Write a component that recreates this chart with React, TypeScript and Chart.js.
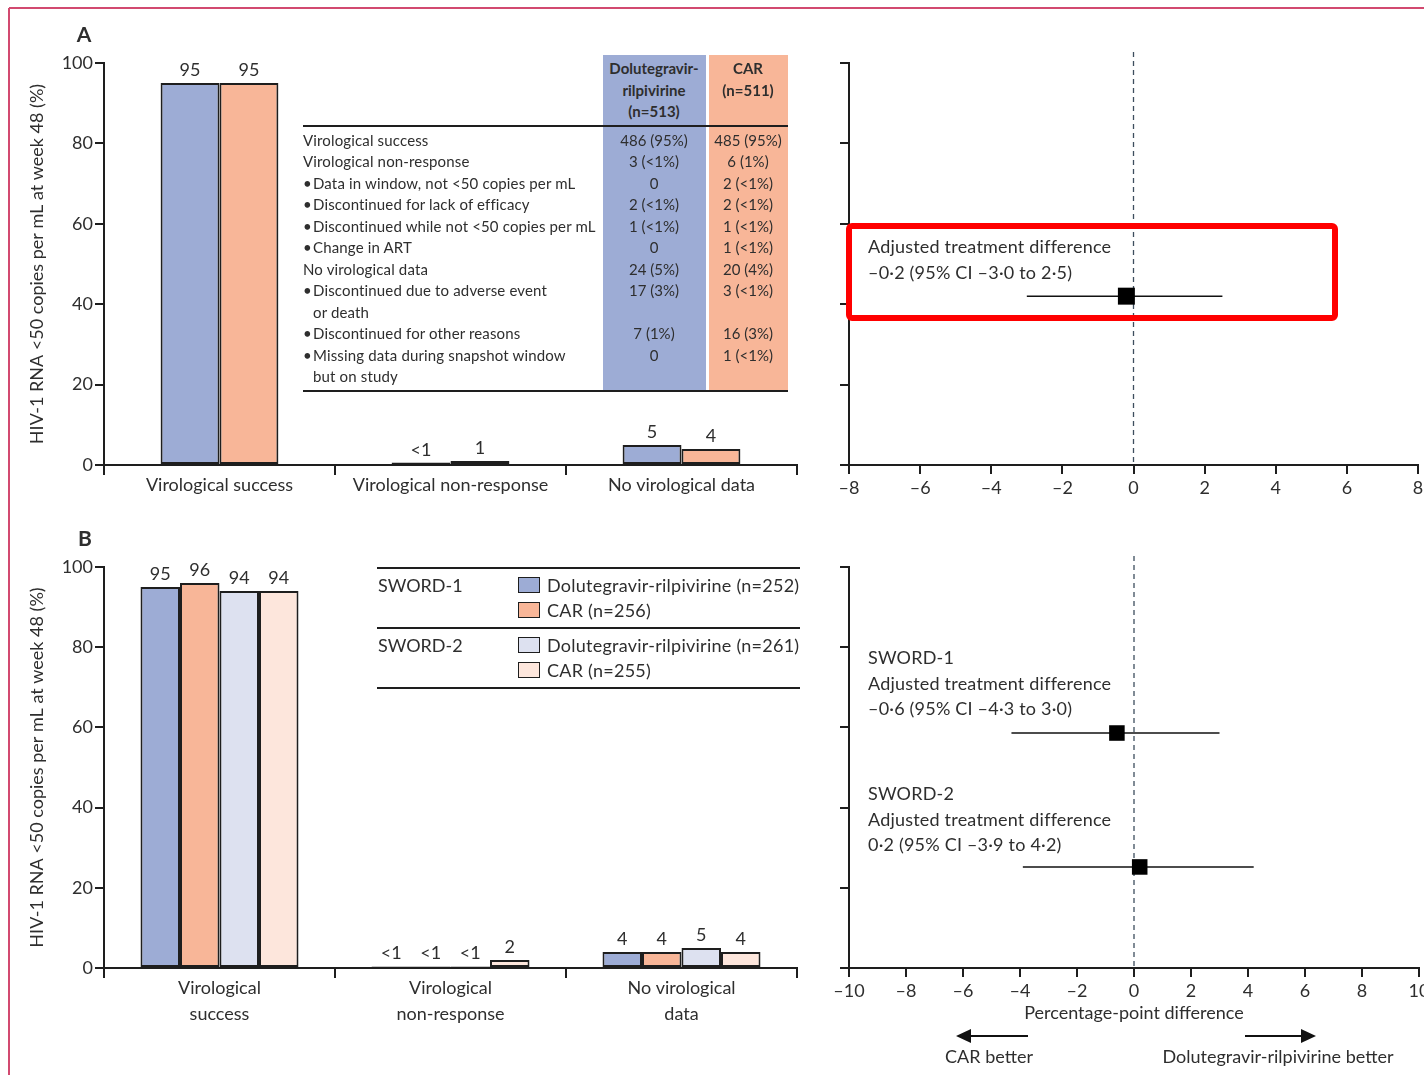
import React, { useEffect, useRef } from 'react';
import { Chart, registerables } from 'chart.js';

Chart.register(...registerables);

const FONT = 'Lato, "Open Sans", "DejaVu Sans", sans-serif';
const TEXT = '#2e2e2e';
const AXIS = '#1e1e1e';

const DR_COLOR = '#9dacd5';
const CAR_COLOR = '#f8b698';
const DR2_COLOR = '#dde1f0';
const CAR2_COLOR = '#fde6dc';

const Y_TITLE = 'HIV-1 RNA <50 copies per mL at week 48 (%)';

// ---------- Panel A: bars ----------
const categoriesA = ['Virological success', 'Virological non-response', 'No virological data'];
const drValuesA = [95, 0.6, 5];
const carValuesA = [95, 1, 4];
const drLabelsA = ['95', '<1', '5'];
const carLabelsA = ['95', '1', '4'];

// ---------- Panel A: table ----------
const tableHeaderDr = ['Dolutegravir-', 'rilpivirine', '(n=513)'];
const tableHeaderCar = ['CAR', '(n=511)'];
const tableRowLabels = [
  ['Virological success'],
  ['Virological non-response'],
  ['Data in window, not <50 copies per mL'],
  ['Discontinued for lack of efficacy'],
  ['Discontinued while not <50 copies per mL'],
  ['Change in ART'],
  ['No virological data'],
  ['Discontinued due to adverse event', 'or death'],
  ['Discontinued for other reasons'],
  ['Missing data during snapshot window', 'but on study'],
];
const tableRowBullet = [false, false, true, true, true, true, false, true, true, true];
const tableDrValues = ['486 (95%)', '3 (<1%)', '0', '2 (<1%)', '1 (<1%)', '0', '24 (5%)', '17 (3%)', '7 (1%)', '0'];
const tableCarValues = ['485 (95%)', '6 (1%)', '2 (<1%)', '2 (<1%)', '1 (<1%)', '1 (<1%)', '20 (4%)', '3 (<1%)', '16 (3%)', '1 (<1%)'];

// ---------- Panel A: forest ----------
const forestAEstimate = [-0.2];
const forestALower = [-3.0];
const forestAUpper = [2.5];
const forestARow = [2.1];
const forestAText = [['Adjusted treatment difference', '–0·2 (95% CI –3·0 to 2·5)']];

// ---------- Panel B: bars ----------
const categoriesB = [['Virological', 'success'], ['Virological', 'non-response'], ['No virological', 'data']];
const sword1DrValues = [95, 0.4, 4];
const sword1CarValues = [96, 0.4, 4];
const sword2DrValues = [94, 0.4, 5];
const sword2CarValues = [94, 2, 4];
const sword1DrLabels = ['95', '<1', '4'];
const sword1CarLabels = ['96', '<1', '4'];
const sword2DrLabels = ['94', '<1', '5'];
const sword2CarLabels = ['94', '2', '4'];
const studyNamesB = ['SWORD-1', 'SWORD-2'];
const seriesNamesB = [
  'Dolutegravir-rilpivirine (n=252)',
  'CAR (n=256)',
  'Dolutegravir-rilpivirine (n=261)',
  'CAR (n=255)',
];

// ---------- Panel B: forest ----------
const forestBEstimate = [-0.6, 0.2];
const forestBLower = [-4.3, -3.9];
const forestBUpper = [3.0, 4.2];
const forestBRow = [2.93, 1.26];
const forestBText = [
  ['SWORD-1', 'Adjusted treatment difference', '–0·6 (95% CI –4·3 to 3·0)'],
  ['SWORD-2', 'Adjusted treatment difference', '0·2 (95% CI –3·9 to 4·2)'],
];

Chart.defaults.font.family = FONT;
Chart.defaults.color = TEXT;

const zeroPad = (s: any) => {
  s.paddingLeft = 0;
  s.paddingRight = 0;
  s.paddingTop = 0;
  s.paddingBottom = 0;
};

type Box = { left: number; top: number; width: number; height: number };
type Area = { left: number; top: number; right: number; bottom: number };

function BarChart(props: {
  box: Box;
  area: Area;
  labels: any[];
  datasets: { values: number[]; labels: string[]; color: string }[];
  catPct: number;
  lineHeight: number;
  labelPad: number;
}) {
  const ref = useRef<HTMLCanvasElement>(null);
  useEffect(() => {
    const { box, area, labels, datasets, catPct, lineHeight, labelPad } = props;
    const yW = area.left - box.left;
    const padTop = area.top - box.top;
    const padRight = box.left + box.width - area.right;
    const xH = box.top + box.height - area.bottom;
    const valuePlugin = {
      id: 'valueLabels',
      afterDatasetsDraw(chart: any) {
        const ctx = chart.ctx;
        ctx.save();
        ctx.font = `18px ${FONT}`;
        ctx.fillStyle = TEXT;
        ctx.textAlign = 'center';
        ctx.textBaseline = 'alphabetic';
        datasets.forEach((d, i) => {
          const meta = chart.getDatasetMeta(i);
          meta.data.forEach((el: any, j: number) => {
            const t = d.labels[j];
            if (t) ctx.fillText(t, el.x, el.y - 7);
          });
        });
        ctx.restore();
      },
    };
    const chart = new Chart(ref.current as HTMLCanvasElement, {
      type: 'bar',
      data: {
        labels,
        datasets: datasets.map((d) => ({
          data: d.values,
          backgroundColor: d.color,
          borderColor: AXIS,
          borderWidth: 2,
          borderSkipped: false,
          categoryPercentage: catPct,
          barPercentage: 1,
        })),
      },
      options: {
        responsive: false,
        animation: false,
        devicePixelRatio: 1,
        events: [],
        layout: { padding: { left: 0, top: padTop, right: padRight, bottom: 0 } },
        plugins: { legend: { display: false }, tooltip: { enabled: false } },
        scales: {
          x: {
            grid: { offset: true, drawOnChartArea: false, tickLength: 10, tickColor: AXIS, lineWidth: 2 },
            border: { display: true, color: AXIS, width: 2 },
            ticks: { color: TEXT, font: { size: 18, lineHeight }, padding: labelPad, maxRotation: 0, autoSkip: false },
            afterFit: (s: any) => {
              s.height = xH;
              zeroPad(s);
            },
          },
          y: {
            min: 0,
            max: 100,
            ticks: { stepSize: 20, color: TEXT, font: { size: 18 }, padding: 2 },
            grid: { drawOnChartArea: false, tickLength: 9, tickColor: AXIS, lineWidth: 2 },
            border: { display: true, color: AXIS, width: 2 },
            title: { display: true, text: Y_TITLE, color: TEXT, font: { size: 18 }, padding: { top: 6, bottom: 0 } },
            afterFit: (s: any) => {
              s.width = yW;
              zeroPad(s);
            },
          },
        },
      } as any,
      plugins: [valuePlugin],
    });
    return () => chart.destroy();
  }, []);
  const { box } = props;
  return (
    <canvas
      ref={ref}
      width={box.width}
      height={box.height}
      style={{ position: 'absolute', left: box.left, top: box.top, width: box.width, height: box.height }}
    />
  );
}

// Chart.js reserves about 13px on the right of the linear x axis for its last label
const FOREST_RIGHT_RESERVE = 13;

function ForestChart(props: {
  box: Box;
  area: Area;
  xH: number;
  xMin: number;
  xMax: number;
  est: number[];
  lo: number[];
  hi: number[];
  rows: number[];
  radius: number;
  xTitle?: string;
}) {
  const ref = useRef<HTMLCanvasElement>(null);
  const { box: box0, area: area0 } = props;
  const canvasWidth = area0.right + FOREST_RIGHT_RESERVE - box0.left;
  useEffect(() => {
    const { box, area, xH, xMin, xMax, est, lo, hi, rows, radius, xTitle } = props;
    const yW = area.left - box.left;
    const padTop = area.top - box.top;
    const padBottom = box.top + box.height - area.bottom - xH;
    const zeroPlugin = {
      id: 'zeroLine',
      beforeDatasetsDraw(chart: any) {
        const ctx = chart.ctx;
        const x = chart.scales.x.getPixelForValue(0);
        ctx.save();
        ctx.strokeStyle = '#3d4e5e';
        ctx.lineWidth = 1.3;
        ctx.setLineDash([5, 4]);
        ctx.beginPath();
        ctx.moveTo(x, chart.chartArea.top - 11);
        ctx.lineTo(x, chart.chartArea.bottom);
        ctx.stroke();
        ctx.restore();
      },
    };
    const chart = new Chart(ref.current as HTMLCanvasElement, {
      type: 'scatter',
      data: {
        datasets: [
          {
            data: est.map((e, i) => ({ x: e, y: rows[i] })),
            pointStyle: 'rect',
            pointRadius: radius,
            backgroundColor: '#000',
            borderColor: '#000',
            borderWidth: 0,
            order: 0,
          },
          ...rows.map((r, i) => ({
            data: [
              { x: lo[i], y: r },
              { x: hi[i], y: r },
            ],
            showLine: true,
            pointRadius: 0,
            borderColor: '#111',
            borderWidth: 1.5,
            order: 1,
          })),
        ],
      },
      options: {
        responsive: false,
        animation: false,
        devicePixelRatio: 1,
        events: [],
        layout: { padding: { left: 0, top: padTop, right: 0, bottom: padBottom } },
        plugins: { legend: { display: false }, tooltip: { enabled: false } },
        scales: {
          x: {
            type: 'linear',
            min: xMin,
            max: xMax,
            ticks: {
              stepSize: 2,
              color: TEXT,
              font: { size: 18 },
              padding: 3,
              maxRotation: 0,
              callback: (v: any) => (v < 0 ? '–' + Math.abs(v) : String(v)),
            },
            grid: { drawOnChartArea: false, tickLength: 9, tickColor: AXIS, lineWidth: 2 },
            border: { display: true, color: AXIS, width: 2 },
            title: xTitle
              ? { display: true, text: xTitle, color: TEXT, font: { size: 18 }, padding: { top: 0, bottom: 0 } }
              : { display: false },
            afterFit: (s: any) => {
              s.height = xH;
              zeroPad(s);
            },
          },
          y: {
            type: 'linear',
            min: 0,
            max: 5,
            ticks: { stepSize: 1, display: false },
            grid: { drawOnChartArea: false, tickLength: 9, tickColor: AXIS, lineWidth: 2 },
            border: { display: true, color: AXIS, width: 2 },
            afterFit: (s: any) => {
              s.width = yW;
              zeroPad(s);
            },
          },
        },
      } as any,
      plugins: [zeroPlugin],
    });
    return () => chart.destroy();
  }, []);
  return (
    <canvas
      ref={ref}
      width={canvasWidth}
      height={box0.height}
      style={{ position: 'absolute', left: box0.left, top: box0.top, width: canvasWidth, height: box0.height }}
    />
  );
}

function Txt(props: {
  x: number;
  y: number;
  size?: number;
  bold?: boolean;
  align?: 'left' | 'center' | 'right';
  ls?: number;
  children: any;
}) {
  const size = props.size ?? 18;
  const lh = Math.round(size * 1.2);
  const style: any = {
    position: 'absolute',
    top: props.y - lh / 2,
    fontSize: size,
    lineHeight: lh + 'px',
    fontFamily: FONT,
    color: TEXT,
    whiteSpace: 'nowrap',
    fontWeight: props.bold ? 700 : 400,
    letterSpacing: props.ls ?? 0,
  };
  const align = props.align ?? 'left';
  if (align === 'left') style.left = props.x;
  else if (align === 'center') {
    style.left = props.x;
    style.transform = 'translateX(-50%)';
  } else style.right = 1424 - props.x;
  return <div style={style}>{props.children}</div>;
}

function HLine(props: { x1: number; x2: number; y: number; w?: number }) {
  const w = props.w ?? 2;
  return (
    <div
      style={{ position: 'absolute', left: props.x1, top: props.y - w / 2, width: props.x2 - props.x1, height: w, background: AXIS }}
    />
  );
}

function Table() {
  const rowStep = 21.45;
  const items: any[] = [];
  let line = 0;
  tableRowLabels.forEach((lines, i) => {
    const y0 = 140 + line * rowStep;
    lines.forEach((t, k) => {
      const y = y0 + k * rowStep;
      const x = tableRowBullet[i] ? 313 : 303;
      items.push(
        <Txt key={`l${i}-${k}`} x={x} y={y} size={15} ls={0.15}>
          {t}
        </Txt>
      );
    });
    if (tableRowBullet[i])
      items.push(
        <Txt key={`b${i}`} x={303} y={y0} size={15}>
          •
        </Txt>
      );
    items.push(
      <Txt key={`d${i}`} x={654} y={y0} size={15} align="center">
        {tableDrValues[i]}
      </Txt>
    );
    items.push(
      <Txt key={`c${i}`} x={748} y={y0} size={15} align="center">
        {tableCarValues[i]}
      </Txt>
    );
    line += lines.length;
  });
  return (
    <>
      <div style={{ position: 'absolute', left: 603, top: 55, width: 103, height: 336, background: DR_COLOR }} />
      <div style={{ position: 'absolute', left: 709, top: 55, width: 79, height: 336, background: CAR_COLOR }} />
      {tableHeaderDr.map((t, i) => (
        <Txt key={`hd${i}`} x={654} y={68 + i * 21.5} size={15} bold align="center">
          {t}
        </Txt>
      ))}
      {tableHeaderCar.map((t, i) => (
        <Txt key={`hc${i}`} x={748} y={68 + i * 21.5} size={15} bold align="center">
          {t}
        </Txt>
      ))}
      <HLine x1={303} x2={788} y={126} />
      <HLine x1={303} x2={788} y={391} />
      {items}
    </>
  );
}

function LegendB() {
  const colors = [DR_COLOR, CAR_COLOR, DR2_COLOR, CAR2_COLOR];
  const ys = [585, 610, 645, 670];
  return (
    <>
      <HLine x1={377} x2={800} y={568} w={1.5} />
      <HLine x1={377} x2={800} y={628} w={1.5} />
      <HLine x1={377} x2={800} y={688} w={1.5} />
      {studyNamesB.map((s, i) => (
        <Txt key={s} x={378} y={ys[i * 2]}>
          {s}
        </Txt>
      ))}
      {seriesNamesB.map((s, i) => (
        <React.Fragment key={i}>
          <div
            style={{
              position: 'absolute',
              left: 518,
              top: ys[i] - 8,
              width: 20,
              height: 14,
              background: colors[i],
              border: `1.5px solid ${AXIS}`,
            }}
          />
          <Txt x={547} y={ys[i]} ls={0.25}>
            {s}
          </Txt>
        </React.Fragment>
      ))}
    </>
  );
}

export default function App() {
  return (
    <div
      style={{
        position: 'absolute',
        left: 0,
        top: 0,
        width: 1424,
        height: 1075,
        overflow: 'hidden',
        background: '#fff',
        fontFamily: FONT,
      }}
    >
      <BarChart
        box={{ left: 20, top: 20, width: 790, height: 500 }}
        area={{ left: 104, top: 63, right: 797, bottom: 465 }}
        labels={categoriesA}
        datasets={[
          { values: drValuesA, labels: drLabelsA, color: DR_COLOR },
          { values: carValuesA, labels: carLabelsA, color: CAR_COLOR },
        ]}
        catPct={0.51}
        lineHeight={1.2}
        labelPad={-1}
      />
      <ForestChart
        box={{ left: 820, top: 20, width: 604, height: 500 }}
        area={{ left: 849, top: 63, right: 1417, bottom: 465 }}
        xH={55}
        xMin={-8}
        xMax={8}
        est={forestAEstimate}
        lo={forestALower}
        hi={forestAUpper}
        rows={forestARow}
        radius={12}
      />
      <BarChart
        box={{ left: 20, top: 520, width: 790, height: 535 }}
        area={{ left: 104, top: 567, right: 797, bottom: 968 }}
        labels={categoriesB}
        datasets={[
          { values: sword1DrValues, labels: sword1DrLabels, color: DR_COLOR },
          { values: sword1CarValues, labels: sword1CarLabels, color: CAR_COLOR },
          { values: sword2DrValues, labels: sword2DrLabels, color: DR2_COLOR },
          { values: sword2CarValues, labels: sword2CarLabels, color: CAR2_COLOR },
        ]}
        catPct={0.684}
        lineHeight={1.4}
        labelPad={-2}
      />
      <ForestChart
        box={{ left: 820, top: 520, width: 604, height: 555 }}
        area={{ left: 849, top: 567, right: 1417, bottom: 968 }}
        xH={56}
        xMin={-10}
        xMax={10}
        est={forestBEstimate}
        lo={forestBLower}
        hi={forestBUpper}
        rows={forestBRow}
        radius={11}
        xTitle="Percentage-point difference"
      />

      <Table />
      <LegendB />

      <Txt x={84} y={33} size={21} bold align="center">
        A
      </Txt>
      <Txt x={85} y={537} size={21} bold align="center">
        B
      </Txt>

      {forestAText[0].map((t, i) => (
        <Txt key={`fa${i}`} x={868} y={246 + i * 26} ls={0.2}>
          {t}
        </Txt>
      ))}
      {forestBText[0].map((t, i) => (
        <Txt key={`fb1${i}`} x={868} y={657 + i * 25.5} ls={0.2}>
          {t}
        </Txt>
      ))}
      {forestBText[1].map((t, i) => (
        <Txt key={`fb2${i}`} x={868} y={793 + i * 25.5} ls={0.2}>
          {t}
        </Txt>
      ))}

      <Txt x={989} y={1056} align="center">
        CAR better
      </Txt>
      <Txt x={1278} y={1056} align="center">
        Dolutegravir-rilpivirine better
      </Txt>

      <svg
        width={1424}
        height={1075}
        style={{ position: 'absolute', left: 0, top: 0, pointerEvents: 'none' }}
      >
        <line x1={9} y1={8} x2={1424} y2={8} stroke="#d24a70" strokeWidth={2} />
        <line x1={9} y1={8} x2={9} y2={1075} stroke="#d24a70" strokeWidth={2} />
        <line x1={1028} y1={1036} x2={968} y2={1036} stroke="#111" strokeWidth={2} />
        <polygon points="956,1036 971,1029 971,1043" fill="#111" />
        <line x1={1245} y1={1036} x2={1303} y2={1036} stroke="#111" strokeWidth={2} />
        <polygon points="1316,1036 1301,1029 1301,1043" fill="#111" />
        <rect x={849} y={226} width={486} height={92} rx={3} ry={3} fill="none" stroke="#ff0000" strokeWidth={6} />
      </svg>
    </div>
  );
}
